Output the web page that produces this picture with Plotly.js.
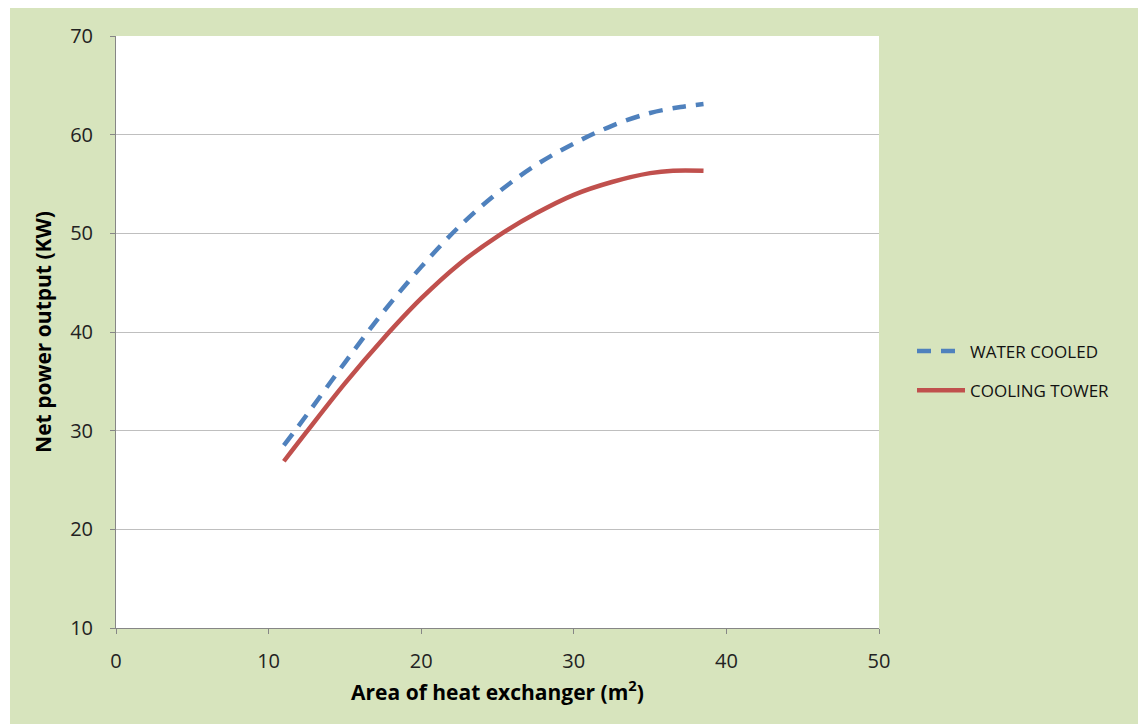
<!DOCTYPE html>
<html>
<head>
<meta charset="utf-8">
<script src="https://cdn.plot.ly/plotly-3.0.1.min.js"></script>
<style>html,body{margin:0;padding:0;background:#fff;}#chart{width:1138px;height:724px;}</style>
</head>
<body>
<div id="chart"></div>
<script>
const areaWater = [11, 12.5, 15, 17.5, 20, 22.5, 25, 27.5, 30, 32.5, 35, 37, 38.5];
const waterCooled = [28.5, 31.6, 36.9, 42.0, 46.6, 50.7, 54.1, 56.9, 59.1, 60.9, 62.2, 62.8, 63.1];
const areaTower = [11, 12.5, 15, 17.5, 20, 22.5, 25, 27.5, 30, 32.5, 35, 36.5, 38.5];
const coolingTower = [26.9, 29.9, 34.8, 39.3, 43.4, 46.9, 49.7, 52.0, 53.9, 55.2, 56.1, 56.35, 56.35];
const seriesNames = ['WATER COOLED', 'COOLING TOWER'];
const xTicks = [0, 10, 20, 30, 40, 50];
const yTicks = [10, 20, 30, 40, 50, 60, 70];

const W = 1138, H = 724;
const L = 116, R = 879, T = 36, B = 628;
const pw = R - L, ph = B - T;
const px = v => (v - L) / pw;
const py = v => (B - v) / ph;

const traces = [
  {x: areaWater, y: waterCooled, name: seriesNames[0], mode: 'lines', legendgroup: 'a',
   line: {color: '#4F81BD', width: 4.5, dash: '14px,10px', shape: 'spline', smoothing: 1}},
  {x: areaTower, y: coolingTower, name: seriesNames[1], mode: 'lines', legendgroup: 'b',
   line: {color: '#C0504D', width: 4.5, shape: 'spline', smoothing: 1}}
];

const tickFont = {family: 'Open Sans, sans-serif', size: 20, color: '#222'};
const titleFont = {family: 'Open Sans, sans-serif', size: 21, color: '#000', weight: 'bold'};

const layout = {
  width: W, height: H,
  margin: {l: L, r: W - R, t: T, b: H - B, pad: 0},
  paper_bgcolor: '#D7E4BD',
  plot_bgcolor: '#FFFFFF',
  showlegend: true,
  legend: {x: px(912), y: py(371), yanchor: 'middle', xanchor: 'left',
    bgcolor: 'rgba(0,0,0,0)', font: {family: 'Open Sans, sans-serif', size: 17, color: '#111'},
    tracegroupgap: 14, itemwidth: 48},
  xaxis: {range: [0, 50], tickvals: xTicks, ticks: 'outside', ticklen: 5, tickcolor: '#868686',
    showline: true, linecolor: '#868686', linewidth: 1, showgrid: false, zeroline: false,
    tickfont: tickFont, ticklabelstandoff: 10,
    title: {text: 'Area of heat exchanger (m<sup>2</sup>)', font: titleFont, standoff: 12}},
  yaxis: {range: [10, 70], tickvals: yTicks, ticks: 'outside', ticklen: 5, tickcolor: '#868686',
    showline: true, linecolor: '#868686', linewidth: 1, showgrid: true, gridcolor: '#BFBFBF',
    gridwidth: 1, zeroline: false, tickfont: tickFont, ticklabelstandoff: 13,
    title: {text: 'Net power output (KW)', font: titleFont, standoff: 12}},
  shapes: [
    {type: 'rect', xref: 'paper', yref: 'paper', x0: px(0), x1: px(10), y0: py(H + 5), y1: py(-5),
     fillcolor: '#fff', line: {width: 0}, layer: 'above'},
    {type: 'rect', xref: 'paper', yref: 'paper', x0: px(0), x1: px(W + 5), y0: py(8), y1: py(-5),
     fillcolor: '#fff', line: {width: 0}, layer: 'above'}
  ]
};

Plotly.newPlot('chart', traces, layout, {staticPlot: true, displayModeBar: false});
</script>
</body>
</html>
